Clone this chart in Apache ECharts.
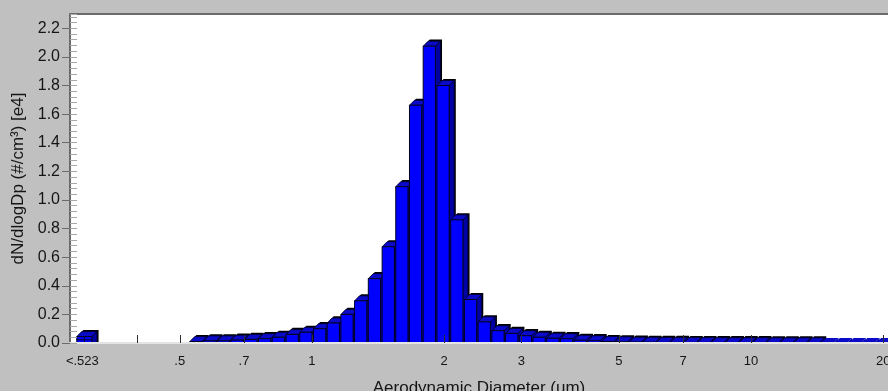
<!DOCTYPE html>
<html>
<head>
<meta charset="utf-8">
<script src="https://cdn.jsdelivr.net/npm/echarts@6/dist/echarts.min.js"></script>
<style>
  html, body { margin: 0; padding: 0; background: #c0c0c0; }
  #chart { width: 888px; height: 391px; }
</style>
</head>
<body>
<div id="chart"></div>
<script>
// Aerodynamic particle size channels (µm, channel midpoints, 32 per decade)
const DIAMETERS = [
  0.542, 0.583, 0.626, 0.673, 0.723, 0.777, 0.835, 0.898, 0.965, 1.037,
  1.114, 1.197, 1.286, 1.382, 1.486, 1.596, 1.715, 1.843, 1.981, 2.129,
  2.288, 2.458, 2.642, 2.839, 3.051, 3.278, 3.523, 3.786, 4.068, 4.371,
  4.698, 5.048, 5.425, 5.829, 6.264, 6.732, 7.234, 7.774, 8.354, 8.977,
  9.647, 10.37, 11.14, 11.97, 12.86, 13.82, 14.86, 15.96, 17.15, 18.43,
  19.81
];

// dN/dlogDp in units of 1e4 #/cm³
const CONCENTRATIONS = [
  0.010, 0.015, 0.015, 0.020, 0.025, 0.030, 0.040, 0.060, 0.075, 0.100,
  0.140, 0.200, 0.295, 0.450, 0.673, 1.093, 1.662, 2.075, 1.800, 0.861,
  0.304, 0.148, 0.086, 0.067, 0.051, 0.040, 0.033, 0.030, 0.019, 0.016,
  0.010, 0.008, 0.006, 0.005, 0.004, 0.004, 0.003, 0.003, 0.002, 0.002,
  0.002, 0.002, 0.001, 0.001, 0.001, 0.001, 0, 0, 0, 0,
  0
];

// Undersize bin (< 0.523 µm)
const UNDERFLOW_LABEL = '<.523';
const UNDERFLOW_VALUE = 0.045;

// Axis ticks and labels
const X_TICK_VALUES = [0.4, 0.5, 0.7, 1, 2, 3, 5, 7, 10, 20];
const X_LABEL_VALUES = [0.3, 0.5, 0.7, 1, 2, 3, 5, 7, 10, 20];
const X_LABEL_TEXTS = [UNDERFLOW_LABEL, '.5', '.7', '1', '2', '3', '5', '7', '10', '20'];
const Y_TICK_VALUES = [0, 0.2, 0.4, 0.6, 0.8, 1.0, 1.2, 1.4, 1.6, 1.8, 2.0, 2.2];

// ---- layout / style ----
const X_MIN = 0.2812, X_MAX = 20.5;          // diameter range of the plot (µm)
const Y_MAX = 2.3;
const CHANNEL_HALF = 1 / 64;                  // half a channel, in decades
const UNDERFLOW_POS = 0.302;                  // where the undersize bin is drawn (µm)
const UNDERFLOW_HALF = 0.019;
const DEPTH = 5;                              // 3D bar depth in px
const FONT = '"Liberation Sans", Arial, sans-serif';
const TEXT_COLOR = '#151515';
const FRAME_COLOR = '#6b6b6b';

const lg = Math.log10;

const barData = [[lg(UNDERFLOW_POS), UNDERFLOW_VALUE, 1]]
  .concat(DIAMETERS.map((d, i) => [lg(d), CONCENTRATIONS[i], 0]));

function renderBar(params, api) {
  const xc = api.value(0);
  const v = api.value(1);
  const isUnder = api.value(2) === 1;
  const half = isUnder ? UNDERFLOW_HALF : CHANNEL_HALF;
  const pTop = api.coord([xc - half, v]);
  const pBase = api.coord([xc + half, 0]);
  const x0 = pTop[0] + 1.5, x1 = pBase[0];
  const yT = pTop[1], yB = pBase[1];
  const d = DEPTH;
  const children = [];
  const hasValue = v > 0;

  if (hasValue) {
    // dark cast edge along the top and right of the bar
    const s = 1.6;
    children.push({
      type: 'polygon',
      shape: { points: [
        [x0 + s, yT - s], [x0 + d + s, yT - d - s], [x1 + d + s, yT - d - s],
        [x1 + d + s, yB], [x1, yB], [x1, yT]
      ] },
      style: { fill: '#000000' }
    });
  }
  // side face
  children.push({
    type: 'polygon',
    shape: { points: [[x1, yT], [x1 + d, yT - d], [x1 + d, yB], [x1, yB]] },
    style: { fill: '#0000a4', stroke: hasValue ? '#000030' : 'none', lineWidth: 0.8 }
  });
  // top face
  children.push({
    type: 'polygon',
    shape: { points: [[x0, yT], [x1, yT], [x1 + d, yT - d], [x0 + d, yT - d]] },
    style: { fill: '#0a0ac8', stroke: hasValue ? '#000030' : 'none', lineWidth: 0.8 }
  });
  // front face
  if (yB - yT > 0.5) {
    children.push({
      type: 'rect',
      shape: { x: x0, y: yT, width: x1 - x0, height: yB - yT },
      style: { fill: '#0000ff', stroke: '#000020', lineWidth: 1 }
    });
  }
  if (isUnder) {
    const xm = (x0 + x1) / 2, ym = (yT + yB) / 2;
    children.push({ type: 'line', shape: { x1: xm, y1: yT, x2: xm, y2: yB },
      style: { stroke: '#000020', lineWidth: 1 } });
    children.push({ type: 'line', shape: { x1: x0, y1: ym, x2: x1, y2: ym },
      style: { stroke: '#000020', lineWidth: 1 } });
  }
  return { type: 'group', children };
}

const chart = echarts.init(document.getElementById('chart'), null, { renderer: 'canvas' });

chart.setOption({
  backgroundColor: '#c0c0c0',
  animation: false,
  grid: {
    left: 70, right: 0, top: 14, bottom: 48,
    outerBoundsMode: 'none',
    containLabel: false,
    show: true, backgroundColor: '#ffffff', borderWidth: 0
  },
  xAxis: [
    {
      type: 'value',
      position: 'bottom',
      min: lg(X_MIN), max: lg(X_MAX),
      z: 10,
      name: 'Aerodynamic Diameter (um)',
      nameLocation: 'middle',
      nameGap: 37,
      nameTextStyle: { fontFamily: FONT, fontSize: 17, color: TEXT_COLOR },
      axisLine: { show: true, onZero: false, lineStyle: { color: '#e4e4e4', width: 2 } },
      axisTick: {
        show: true, inside: true, length: 8,
        customValues: X_TICK_VALUES.map(lg),
        lineStyle: { color: '#303030', width: 1 }
      },
      axisLabel: {
        show: true, margin: 12,
        customValues: X_LABEL_VALUES.map(lg),
        fontFamily: FONT, fontSize: 13, color: TEXT_COLOR,
        formatter: (val) => {
          let best = 0, err = Infinity;
          X_LABEL_VALUES.forEach((x, i) => {
            const e = Math.abs(lg(x) - val);
            if (e < err) { err = e; best = i; }
          });
          return X_LABEL_TEXTS[best];
        }
      },
      splitLine: { show: false }
    },
    {
      type: 'value',
      position: 'top',
      min: lg(X_MIN), max: lg(X_MAX),
      z: 10,
      axisLine: { show: true, onZero: false, lineStyle: { color: FRAME_COLOR, width: 2 } },
      axisTick: { show: false },
      axisLabel: { show: false },
      splitLine: { show: false }
    }
  ],
  yAxis: [
    {
      type: 'value',
      position: 'left',
      min: 0, max: Y_MAX,
      z: 10,
      name: 'dN/dlogDp (#/cm³) [e4]',
      nameLocation: 'middle',
      nameGap: 38,
      nameTextStyle: { fontFamily: FONT, fontSize: 17, color: TEXT_COLOR },
      axisLine: { show: true, onZero: false, lineStyle: { color: FRAME_COLOR, width: 2 } },
      axisTick: {
        show: true, inside: false, length: 8,
        customValues: Y_TICK_VALUES,
        lineStyle: { color: FRAME_COLOR, width: 1 }
      },
      axisLabel: {
        show: true, margin: 10,
        customValues: Y_TICK_VALUES,
        fontFamily: FONT, fontSize: 16, color: TEXT_COLOR,
        formatter: (v) => v.toFixed(1)
      },
      splitLine: { show: false }
    },
    {
      // fine inner ticks along the value axis
      type: 'value',
      position: 'left',
      min: 0, max: Y_MAX,
      interval: 0.04,
      z: 10,
      axisLine: { show: false, onZero: false },
      axisTick: { show: true, inside: true, length: 7, lineStyle: { color: '#a8a8a8', width: 1 } },
      axisLabel: { show: false },
      splitLine: { show: false }
    }
  ],
  series: [
    {
      type: 'custom',
      xAxisIndex: 0,
      yAxisIndex: 0,
      renderItem: renderBar,
      data: barData,
      encode: { x: 0, y: 1 },
      clip: true
    }
  ]
});
</script>
</body>
</html>
